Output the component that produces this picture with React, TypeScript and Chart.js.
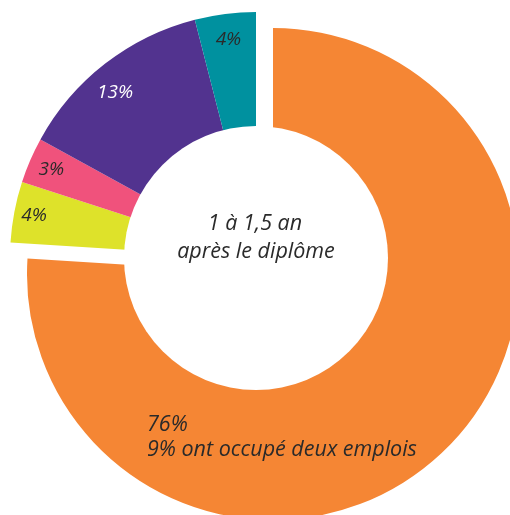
import React, { useEffect, useRef } from "react";
import { Chart, registerables } from "chart.js";

Chart.register(...registerables);

// ---- data ----
const categories = ["76%", "4%", "3%", "13%", "4%"];
const values = [76, 4, 3, 13, 4];
const valueLabels = ["76%", "4%", "3%", "13%", "4%"];
const orangeNote = "9% ont occupé deux emplois";
const centerLines = ["1 à 1,5 an", "après le diplôme"];

// ---- styles ----
const colors = ["#F58634", "#DEE22A", "#F0527C", "#52338F", "#00919F"];
const labelColors = ["#2a2a2a", "#2a2a2a", "#2a2a2a", "#ffffff", "#2a2a2a"];
const labelRadius = [0, 226, 223, 217, 220];
const labelAngleNudgeDeg = [0, 0, 0, -2.7, 0];
const SHIFT_X = 8.5;
const SHIFT_Y = 8;
const HOLE_R = 132;
const FONT = '"Open Sans", "Noto Sans", sans-serif';

const splitPlugin = {
  id: "splitDoughnut",
  afterDatasetUpdate(chart: any, args: any) {
    const area = chart.chartArea;
    const cx = (area.left + area.right) / 2;
    const cy = (area.top + area.bottom) / 2;
    args.meta.data.forEach((el: any, i: number) => {
      const s = i === 0 ? 1 : -1;
      el.x = cx + s * SHIFT_X;
      el.y = cy + s * SHIFT_Y;
    });
  },
  afterDatasetsDraw(chart: any) {
    const ctx = chart.ctx;
    const meta = chart.getDatasetMeta(0);
    const orange = meta.data[0];
    const group = meta.data[1];
    ctx.save();
    // hole
    ctx.fillStyle = "#ffffff";
    ctx.beginPath();
    ctx.arc(group.x, group.y, HOLE_R, 0, Math.PI * 2);
    ctx.fill();

    // slice labels
    ctx.font = `italic 19px ${FONT}`;
    ctx.textAlign = "center";
    ctx.textBaseline = "middle";
    for (let i = 1; i < meta.data.length; i++) {
      const el = meta.data[i];
      const mid = (el.startAngle + el.endAngle) / 2 + (labelAngleNudgeDeg[i] * Math.PI) / 180;
      const r = labelRadius[i];
      ctx.fillStyle = labelColors[i];
      ctx.fillText(valueLabels[i], el.x + Math.cos(mid) * r, el.y + Math.sin(mid) * r);
    }

    // orange slice labels
    ctx.font = `italic 21.5px ${FONT}`;
    ctx.textAlign = "left";
    ctx.textBaseline = "alphabetic";
    ctx.fillStyle = labelColors[0];
    ctx.fillText(valueLabels[0], orange.x - 126, orange.y + 157);
    ctx.fillText(orangeNote, orange.x - 126, orange.y + 182);

    // center text
    ctx.font = `italic 21.5px ${FONT}`;
    ctx.textAlign = "center";
    ctx.fillStyle = "#2a2a2a";
    ctx.fillText(centerLines[0], group.x - 1, group.y - 28);
    ctx.fillText(centerLines[1], group.x, group.y);
    ctx.restore();
  },
};

export default function App() {
  const ref = useRef<HTMLCanvasElement | null>(null);
  useEffect(() => {
    if (!ref.current) return;
    const chart = new Chart(ref.current, {
      type: "doughnut",
      data: {
        labels: categories,
        datasets: [
          {
            data: values,
            backgroundColor: colors,
            borderWidth: 0,
            clip: false as any,
          },
        ],
      },
      options: {
        responsive: false,
        animation: false,
        events: [],
        radius: 246,
        cutout: "40%",
        layout: { padding: { left: 19, top: 17, right: 0, bottom: 0 } },
        plugins: {
          legend: { display: false },
          tooltip: { enabled: false },
        },
      },
      plugins: [splitPlugin],
    });
    return () => chart.destroy();
  }, []);
  return (
    <div style={{ position: "fixed", left: 0, top: 0, width: 510, height: 515, overflow: "hidden", background: "#fff" }}>
      <canvas ref={ref} width={510} height={515} style={{ display: "block", width: 510, height: 515 }} />
    </div>
  );
}
